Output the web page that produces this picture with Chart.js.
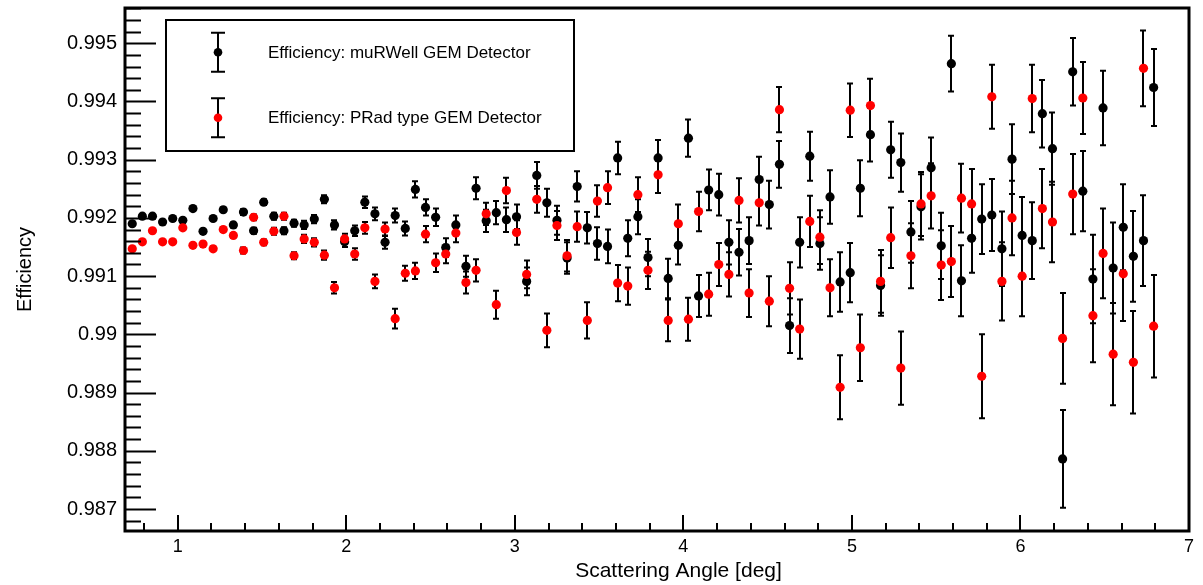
<!DOCTYPE html>
<html><head><meta charset="utf-8">
<script src="https://cdn.jsdelivr.net/npm/chart.js@4.4.1/dist/chart.umd.min.js"></script>
<style>html,body{margin:0;padding:0;background:#fff;overflow:hidden}</style>
</head><body>
<canvas id="c" width="1203" height="585"></canvas>
<script>
// ---------- data ----------
const angles = [0.73,0.79,0.85,0.91,0.97,1.03,1.09,1.15,1.21,1.27,
 1.33,1.39,1.45,1.51,1.57,1.63,1.69,1.75,1.81,1.87,
 1.93,1.99,2.05,2.11,2.17,2.23,2.29,2.35,2.41,2.47,
 2.53,2.59,2.65,2.71,2.77,2.83,2.89,2.95,3.01,3.07,
 3.13,3.19,3.25,3.31,3.37,3.43,3.49,3.55,3.61,3.67,
 3.73,3.79,3.85,3.91,3.97,4.03,4.09,4.15,4.21,4.27,
 4.33,4.39,4.45,4.51,4.57,4.63,4.69,4.75,4.81,4.87,
 4.93,4.99,5.05,5.11,5.17,5.23,5.29,5.35,5.41,5.47,
 5.53,5.59,5.65,5.71,5.77,5.83,5.89,5.95,6.01,6.07,
 6.13,6.19,6.25,6.31,6.37,6.43,6.49,6.55,6.61,6.67,
 6.73,6.79];

const effMuRWell = [0.99190,0.99203,0.99203,0.99193,0.99199,0.99196,0.99216,0.99177,0.99199,0.99214,
 0.99188,0.99210,0.99178,0.99227,0.99203,0.99178,0.99191,0.99188,0.99198,0.99232,
 0.99188,0.99159,0.99178,0.99227,0.99207,0.99158,0.99204,0.99182,0.99249,0.99218,
 0.99201,0.99149,0.99188,0.99117,0.99251,0.99195,0.99209,0.99197,0.99202,0.99091,
 0.99273,0.99226,0.99196,0.99131,0.99254,0.99183,0.99156,0.99151,0.99303,0.99165,
 0.99202,0.99132,0.99303,0.99096,0.99153,0.99337,0.99066,0.99248,0.99240,0.99158,
 0.99141,0.99161,0.99266,0.99223,0.99292,0.99015,0.99158,0.99306,0.99156,0.99236,
 0.99090,0.99106,0.99251,0.99343,0.99084,0.99317,0.99295,0.99176,0.99219,0.99286,
 0.99152,0.99465,0.99092,0.99165,0.99198,0.99205,0.99147,0.99301,0.99170,0.99161,
 0.99379,0.99319,0.98786,0.99451,0.99246,0.99095,0.99389,0.99114,0.99184,0.99134,
 0.99161,0.99424];

const errMuRWell = [.00003,.00003,.00003,.00003,.00003,.00003,.00004,.00004,.00004,.00004,
 .00004,.00005,.00005,.00005,.00006,.00006,.00006,.00007,.00007,.00007,
 .00008,.00009,.00009,.00010,.00011,.00011,.00012,.00012,.00014,.00014,
 .00015,.00016,.00016,.00018,.00019,.00019,.00020,.00021,.00021,.00024,
 .00023,.00024,.00025,.00027,.00026,.00027,.00028,.00029,.00028,.00031,
 .00030,.00032,.00031,.00034,.00033,.00032,.00036,.00035,.00036,.00038,
 .00040,.00040,.00039,.00041,.00040,.00047,.00043,.00042,.00045,.00046,
 .00051,.00051,.00048,.00046,.00052,.00048,.00050,.00053,.00056,.00052,
 .00057,.00048,.00061,.00059,.00060,.00062,.00064,.00060,.00066,.00066,
 .00058,.00062,.00084,.00058,.00069,.00076,.00064,.00078,.00074,.00078,
 .00078,.00066];

const effPRad = [0.99147,0.99159,0.99178,0.99159,0.99159,0.99183,0.99153,0.99155,0.99147,0.99180,
 0.99170,0.99144,0.99201,0.99158,0.99177,0.99203,0.99135,0.99164,0.99158,0.99136,
 0.99080,0.99164,0.99138,0.99183,0.99091,0.99181,0.99027,0.99105,0.99109,0.99172,
 0.99123,0.99138,0.99174,0.99089,0.99110,0.99207,0.99051,0.99247,0.99175,0.99103,
 0.99232,0.99007,0.99187,0.99135,0.99185,0.99024,0.99229,0.99252,0.99088,0.99083,
 0.99240,0.99110,0.99274,0.99024,0.99190,0.99026,0.99211,0.99069,0.99120,0.99103,
 0.99230,0.99071,0.99226,0.99057,0.99386,0.99079,0.99009,0.99194,0.99167,0.99080,
 0.98909,0.99385,0.98977,0.99393,0.99091,0.99166,0.98942,0.99135,0.99224,0.99238,
 0.99119,0.99125,0.99234,0.99224,0.98928,0.99408,0.99091,0.99200,0.99100,0.99405,
 0.99216,0.99193,0.98993,0.99241,0.99406,0.99032,0.99139,0.98966,0.99104,0.98952,
 0.99457,0.99014];

const errPRad = [.00003,.00003,.00003,.00003,.00003,.00003,.00004,.00004,.00004,.00004,
 .00004,.00005,.00005,.00005,.00006,.00006,.00006,.00007,.00007,.00008,
 .00010,.00009,.00010,.00010,.00012,.00011,.00017,.00013,.00014,.00014,
 .00016,.00016,.00016,.00019,.00019,.00019,.00024,.00022,.00021,.00024,
 .00023,.00029,.00025,.00027,.00026,.00031,.00027,.00028,.00031,.00032,
 .00030,.00032,.00031,.00036,.00033,.00037,.00034,.00037,.00037,.00038,
 .00038,.00041,.00039,.00043,.00039,.00045,.00051,.00044,.00046,.00049,
 .00055,.00046,.00057,.00046,.00054,.00052,.00063,.00056,.00055,.00056,
 .00060,.00061,.00059,.00060,.00072,.00055,.00067,.00064,.00069,.00058,
 .00068,.00069,.00078,.00069,.00062,.00080,.00077,.00088,.00081,.00088,
 .00065,.00088];

const xTickValues = [1,2,3,4,5,6,7];
const yTickValues = [0.987,0.988,0.989,0.990,0.991,0.992,0.993,0.994,0.995];
const seriesNames = ['Efficiency: muRWell GEM Detector','Efficiency: PRad type GEM Detector'];
const seriesColors = ['#000000','#ff0000'];
const xTitle = 'Scattering Angle [deg]';
const yTitle = 'Efficiency';

// ---------- style ----------
const FONT = "'Liberation Sans', Arial, Helvetica, sans-serif";

const errorBars = {
  id: 'errorBars',
  beforeDatasetDraw(chart, args) {
    const ds = chart.data.datasets[args.index];
    const errs = ds.errors; if (!errs) return;
    const {ctx, chartArea: a, scales: {x, y}} = chart;
    ctx.save();
    ctx.beginPath(); ctx.rect(a.left, a.top, a.right - a.left, a.bottom - a.top); ctx.clip();
    ctx.strokeStyle = '#000'; ctx.lineWidth = 2;
    ds.data.forEach((p, i) => {
      const px = Math.round(x.getPixelForValue(p.x));
      const y1 = y.getPixelForValue(p.y - errs[i]);
      const y2 = y.getPixelForValue(p.y + errs[i]);
      ctx.beginPath();
      ctx.moveTo(px, y1); ctx.lineTo(px, y2);
      ctx.moveTo(px - 3, y1); ctx.lineTo(px + 3, y1);
      ctx.moveTo(px - 3, y2); ctx.lineTo(px + 3, y2);
      ctx.stroke();
    });
    ctx.restore();
  }
};

const rootFrame = {
  id: 'rootFrame',
  afterDraw(chart) {
    const {ctx, chartArea: a, scales: {x, y}} = chart;
    ctx.save();
    ctx.strokeStyle = '#000';
    ctx.lineWidth = 2;
    // y ticks (inward)
    const yStep = 0.0002;
    for (let k = Math.ceil(y.min / yStep - 1e-6); k * yStep <= y.max + 1e-9; k++) {
      const py = Math.round(y.getPixelForValue(k * yStep)) + 0.5;
      const len = (k % 5 === 0) ? 31 : 16;
      ctx.beginPath(); ctx.moveTo(a.left, py); ctx.lineTo(a.left + len, py); ctx.stroke();
    }
    // x ticks (inward)
    const xStep = 0.2;
    for (let k = Math.ceil(x.min / xStep - 1e-6); k * xStep <= x.max + 1e-9; k++) {
      const px = Math.round(x.getPixelForValue(k * xStep));
      const len = (k % 5 === 0) ? 16 : 8;
      ctx.beginPath(); ctx.moveTo(px, a.bottom); ctx.lineTo(px, a.bottom - len); ctx.stroke();
    }
    // frame
    ctx.lineWidth = 3;
    ctx.strokeRect(a.left, a.top, a.right - a.left, a.bottom - a.top);

    // x title
    ctx.fillStyle = '#000';
    ctx.font = '21px ' + FONT;
    ctx.textAlign = 'center'; ctx.textBaseline = 'alphabetic';
    ctx.fillText(xTitle, 678.5, 577);

    // legend box
    const L = {x: 166, y: 20, w: 408, h: 131};
    ctx.fillStyle = '#fff';
    ctx.fillRect(L.x, L.y, L.w, L.h);
    ctx.lineWidth = 2;
    ctx.strokeRect(L.x, L.y, L.w, L.h);
    const rows = [52.3, 117.7];
    chart.data.datasets.slice().sort((p, q) => p.legendIndex - q.legendIndex).forEach((ds, i) => {
      const cy = rows[i], cx = 218;
      ctx.strokeStyle = '#000'; ctx.lineWidth = 2;
      ctx.beginPath();
      ctx.moveTo(cx, cy - 19.5); ctx.lineTo(cx, cy + 19.5);
      ctx.moveTo(cx - 7, cy - 19.5); ctx.lineTo(cx + 7, cy - 19.5);
      ctx.moveTo(cx - 7, cy + 19.5); ctx.lineTo(cx + 7, cy + 19.5);
      ctx.stroke();
      ctx.fillStyle = ds.backgroundColor;
      ctx.beginPath(); ctx.arc(cx, cy, 4.3, 0, Math.PI * 2); ctx.fill();
      ctx.fillStyle = '#000';
      ctx.font = '17px ' + FONT;
      ctx.textAlign = 'left'; ctx.textBaseline = 'middle';
      ctx.fillText(ds.label, 268, cy + 1);
    });
    ctx.restore();
  }
};

const mk = (vals) => angles.map((a, i) => ({x: a, y: vals[i]}));

new Chart(document.getElementById('c'), {
  type: 'scatter',
  data: {
    datasets: [
      {label: seriesNames[1], data: mk(effPRad), errors: errPRad, legendIndex: 1,
       backgroundColor: seriesColors[1], borderColor: seriesColors[1],
       pointRadius: 4.6, pointBorderWidth: 0, pointHoverRadius: 4.6, order: 1},
      {label: seriesNames[0], data: mk(effMuRWell), errors: errMuRWell, legendIndex: 0,
       backgroundColor: seriesColors[0], borderColor: seriesColors[0],
       pointRadius: 4.6, pointBorderWidth: 0, pointHoverRadius: 4.6, order: 2}
    ]
  },
  options: {
    responsive: false,
    animation: false,
    devicePixelRatio: 1,
    layout: {padding: {top: 8, right: 14, left: 0, bottom: 0}},
    plugins: {legend: {display: false}, tooltip: {enabled: false}},
    scales: {
      x: {
        type: 'linear', min: 0.687, max: 7.0,
        grid: {display: false, drawTicks: false},
        border: {display: false},
        afterBuildTicks: s => { s.ticks = xTickValues.map(v => ({value: v})); },
        afterFit: s => { s.height = 54; s.paddingLeft = 0; s.paddingRight = 0; },
        ticks: {color: '#000', font: {family: FONT, size: 18}, padding: 5, maxRotation: 0, autoSkip: false,
                callback: v => String(v)},
        title: {display: false, text: xTitle}
      },
      y: {
        type: 'linear', min: 0.986622, max: 0.995606,
        grid: {display: false, drawTicks: false},
        border: {display: false},
        afterBuildTicks: s => { s.ticks = yTickValues.map(v => ({value: v})); },
        afterFit: s => { s.width = 125; s.paddingTop = 0; s.paddingBottom = 0; },
        ticks: {color: '#000', font: {family: FONT, size: 20}, padding: 8, autoSkip: false,
                callback: v => String(parseFloat(Number(v).toFixed(3)))},
        title: {display: true, text: yTitle, color: '#000', font: {family: FONT, size: 20},
                padding: {top: 13, bottom: 0}}
      }
    }
  },
  plugins: [errorBars, rootFrame]
});
</script>
</body></html>
